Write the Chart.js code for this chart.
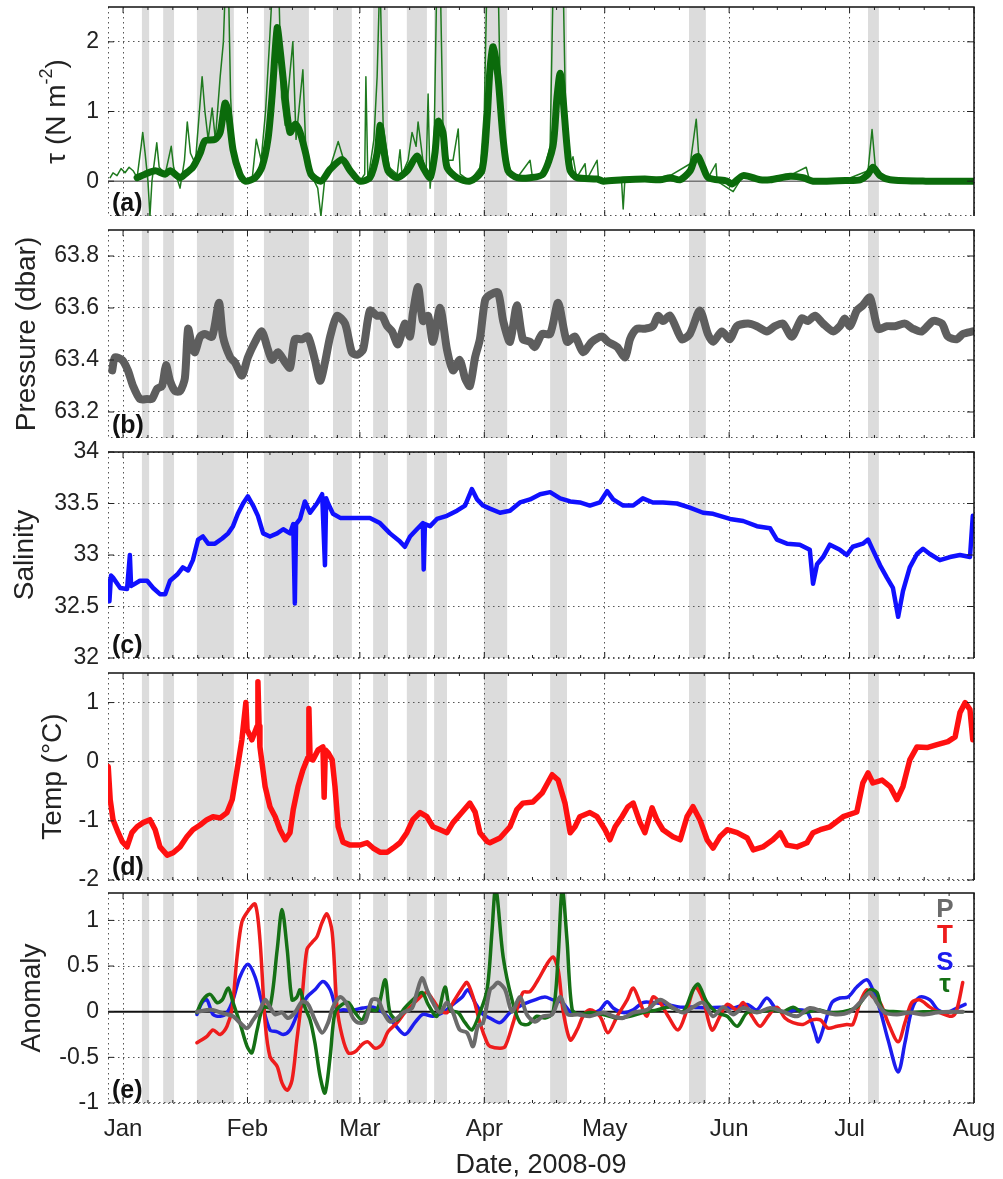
<!DOCTYPE html>
<html>
<head>
<meta charset="utf-8">
<script src="https://cdn.jsdelivr.net/npm/chart.js@4.4.1/dist/chart.umd.min.js"></script>
<style>
  body { margin: 0; background: #fff; }
  #wrap { position: relative; width: 1003px; height: 1179px; overflow: hidden; }
  canvas { position: absolute; left: 0; }
</style>
</head>
<body>
<div id="wrap">
  <canvas id="chartA" width="1003" height="230" style="top:0px"></canvas>
  <canvas id="chartB" width="1003" height="236" style="top:216px"></canvas>
  <canvas id="chartC" width="1003" height="234" style="top:438px"></canvas>
  <canvas id="chartD" width="1003" height="235" style="top:659px"></canvas>
  <canvas id="chartE" width="1003" height="300" style="top:879px"></canvas>
</div>
<script>
// Trục thời gian: ngày kể từ 1 Jan
const monthDays = [0, 31, 59, 90, 120, 151, 181, 212];
const monthLabels = ['Jan', 'Feb', 'Mar', 'Apr', 'May', 'Jun', 'Jul', 'Aug'];

// Các đợt bão (vùng tô xám) [bắt đầu, kết thúc]
const storms = [[4.7, 6.5], [10, 12.7], [18.4, 27.6], [35.1, 46.3], [52.3, 57], [62.3, 66],
  [70.7, 75.7], [77.5, 80.7], [89.9, 95.7], [106.4, 110.6], [141, 145.2], [185.6, 188.3]];

// (a) ứng suất gió: đường làm trơn và số liệu thô
const tauSmooth = [[3.5,0.05],[5.5,0.1],[8,0.15],[10.5,0.1],[11.7,0.15],[14.2,0.05],[15.4,0.1],[17.4,0.2],[19.2,0.4],[20.4,0.58],[22.9,0.6],[24.2,0.7],[25.4,1.12],[26.2,1.0],[27.4,0.45],[29.1,0.1],[30.4,0.0],[32.9,0.05],[34.6,0.2],[36.1,0.6],[37.1,1.2],[38.4,2.2],[39.1,1.9],[40.4,1.2],[41.6,0.7],[42.9,0.82],[44.1,0.7],[45.5,0.4],[46.8,0.1],[49.3,0.0],[51.6,0.17],[54.6,0.31],[56.6,0.15],[59.0,0.0],[61.5,0.05],[63.3,0.4],[64.0,0.8],[64.8,0.5],[66.0,0.15],[68.3,0.05],[70.8,0.15],[73.2,0.36],[74.7,0.2],[76.5,0.05],[77.7,0.4],[78.5,0.86],[79.7,0.7],[80.7,0.2],[83.2,0.05],[86.4,0.0],[89.4,0.15],[90.7,0.9],[91.4,1.6],[92.2,1.93],[93.4,1.5],[94.7,0.6],[95.9,0.15],[98.2,0.05],[101.4,0.05],[104.6,0.1],[107.1,0.5],[108.1,1.2],[108.9,1.55],[109.6,1.2],[110.6,0.5],[111.4,0.15],[113.1,0.05],[118.1,0.03],[119.6,0.0],[124.6,0.02],[130,0.03],[133.8,0.02],[136.3,0.05],[138.8,0.02],[141.3,0.15],[142.5,0.33],[143.3,0.35],[144.5,0.2],[145.8,0.05],[150.5,0.0],[151.7,-0.04],[154.5,0.08],[158.7,0.02],[161.2,0.02],[166.2,0.07],[169.4,0.05],[171.9,0.0],[180,0.01],[183.6,0.02],[185.6,0.1],[186.8,0.2],[188.6,0.08],[191.1,0.02],[200,0.0],[212,0.0]];
const tauRaw = [[-3.2,0.05],[-2.5,0.12],[-1.5,0.08],[-0.5,0.18],[0.5,0.12],[1.5,0.2],[2.5,0.15],[3.5,0.05],[4.5,0.5],[4.9,0.7],[5.5,0.4],[6.2,0.0],[6.7,-0.5],[7.2,0.0],[8.4,0.55],[9,0.2],[10.5,0.1],[12,0.5],[12.6,0.2],[14.2,-0.1],[15.3,0.3],[16,0.85],[16.8,0.4],[18,0.25],[19.7,1.5],[20.4,1.0],[21.2,0.6],[22.2,1.05],[23,0.6],[24.2,1.5],[25,2.0],[25.6,3],[26.2,3],[26.8,1.2],[27.4,0.5],[29.1,0.05],[30.4,0.0],[32.2,0.05],[33.2,0.6],[34.4,0.3],[35.5,1.0],[36.5,2.0],[37.4,3],[38.7,3],[39.5,1.2],[40.4,0.8],[41.5,1.5],[42.3,2.0],[43.1,0.6],[44.8,1.6],[45.5,0.5],[46.8,0.1],[48.5,-0.1],[49.3,-0.5],[50.2,0.0],[51.6,0.2],[53.6,0.57],[55,0.3],[57,0.1],[59,0.0],[60.2,0.1],[60.5,1.5],[61,0.0],[62.5,0.6],[63.3,1.5],[64,3],[64.8,0.8],[66.3,0.2],[68.3,0.1],[69,0.45],[69.5,0.1],[71,0.3],[72,0.7],[73,0.5],[73.5,0.85],[74.7,0.3],[75.5,0.1],[76,1.25],[76.5,-0.1],[77.5,0.6],[78.2,3],[79,3],[79.7,0.8],[80.7,0.3],[82.2,0.3],[83.5,0.75],[84,0.1],[86.4,0.0],[89,0.2],[90,1.0],[90.7,3],[92.2,3],[93.4,3],[94,1.2],[95,0.5],[96,0.1],[98.2,0.05],[101.4,0.3],[102,0.05],[104.6,0.1],[106.4,0.5],[107.2,3],[109.6,3],[110.3,0.8],[111,0.2],[112.1,0.35],[113,0.05],[115.1,0.25],[115.5,0.02],[118.1,0.3],[118.5,0.0],[124.2,0.0],[124.6,-0.4],[125,0.0],[130,0.02],[136.3,0.08],[141.3,0.25],[142.8,0.89],[143.5,0.3],[145.8,0.05],[147.7,0.25],[148,0.0],[152,-0.15],[154.5,0.08],[160,0.02],[166,0.08],[170.2,0.2],[171,0.02],[180,0.02],[185.6,0.15],[186.6,0.74],[187.5,0.15],[189,0.03],[195,0.0],[212,0.0]];

// (b) áp suất (dbar)
const pressure = [[-2.7,63.36],[-2.0,63.41],[-0.2,63.40],[1.2,63.36],[2.5,63.30],[4.2,63.25],[6.0,63.25],[7.2,63.25],[8.5,63.29],[9.7,63.30],[10.7,63.38],[11.7,63.32],[13.0,63.28],[14.2,63.28],[15.4,63.33],[16.2,63.52],[17.2,63.45],[17.9,63.43],[19.2,63.49],[20.4,63.50],[22.2,63.49],[23.9,63.62],[24.9,63.49],[26.7,63.41],[27.9,63.39],[29.6,63.34],[31.1,63.41],[32.9,63.47],[34.6,63.51],[35.9,63.45],[37.1,63.40],[38.6,63.43],[40.4,63.39],[41.6,63.37],[42.8,63.48],[44.6,63.48],[46.1,63.49],[47.8,63.40],[49.1,63.32],[50.3,63.39],[51.6,63.49],[53.3,63.57],[55.3,63.54],[57.0,63.43],[58.3,63.42],[59.8,63.44],[61.5,63.59],[63.3,63.57],[64.5,63.57],[65.8,63.53],[67.0,63.51],[68.5,63.46],[70.2,63.54],[71.5,63.49],[72.2,63.58],[73.5,63.68],[74.7,63.55],[76.0,63.57],[77.2,63.47],[79.0,63.60],[80.7,63.44],[82.2,63.36],[83.9,63.40],[85.2,63.33],[86.4,63.30],[87.7,63.41],[88.9,63.48],[90.2,63.63],[91.4,63.65],[93.4,63.66],[94.7,63.55],[96.4,63.47],[98.1,63.61],[99.6,63.48],[101.4,63.47],[102.6,63.45],[104.4,63.50],[106.4,63.50],[108.4,63.62],[110.6,63.47],[112.6,63.49],[114.6,63.43],[116.8,63.47],[119.3,63.49],[120.8,63.47],[123.1,63.45],[125.1,63.41],[126.3,63.48],[128.0,63.52],[130.0,63.52],[132.0,63.53],[133.3,63.57],[134.5,63.55],[136.3,63.57],[139.2,63.48],[141.2,63.50],[143.7,63.59],[145.7,63.50],[147.0,63.47],[149.2,63.51],[151.2,63.48],[152.9,63.53],[155.7,63.54],[157.9,63.53],[160.4,63.51],[162.4,63.53],[164.4,63.54],[166.6,63.49],[169.1,63.56],[170.6,63.55],[172.4,63.57],[174.4,63.54],[176.9,63.51],[178.6,63.53],[179.8,63.56],[181.1,63.53],[182.8,63.59],[184.3,63.61],[186.1,63.64],[188.1,63.52],[190.3,63.53],[192.3,63.53],[194.8,63.54],[196.8,63.52],[199.0,63.51],[201.8,63.55],[204.0,63.54],[205.5,63.49],[207.7,63.48],[209.2,63.50],[211.7,63.51]];

// (c) độ mặn
const salinity = [[-3.7,32.75],[-3.4,32.55],[-3,32.8],[-2.5,32.78],[-0.7,32.68],[1.0,32.67],[1.7,33.0],[2.0,32.7],[2.5,32.71],[4.2,32.75],[6.0,32.75],[7.5,32.68],[9.2,32.62],[10.5,32.62],[11.7,32.75],[13.5,32.81],[14.9,32.88],[16.2,32.85],[17.4,32.95],[18.7,33.15],[19.9,33.18],[21.2,33.11],[22.9,33.11],[24.7,33.16],[26.2,33.21],[27.4,33.28],[28.6,33.4],[29.9,33.5],[31.1,33.57],[32.4,33.48],[33.6,33.38],[34.9,33.21],[36.6,33.18],[38.4,33.21],[39.9,33.25],[41.6,33.21],[42.4,33.3],[42.8,32.53],[43.1,33.3],[44.1,33.35],[45.3,33.52],[46.6,33.41],[48.3,33.5],[49.6,33.59],[50.3,32.9],[50.6,33.55],[51.1,33.5],[52.3,33.4],[54.1,33.36],[56.6,33.36],[59.0,33.36],[61.5,33.36],[64.0,33.31],[66.5,33.21],[69.0,33.13],[70.2,33.08],[71.5,33.18],[73.2,33.25],[74.7,33.31],[74.9,32.86],[75.2,33.3],[76.5,33.28],[78.2,33.35],[80.7,33.38],[83.2,33.43],[85.2,33.48],[86.9,33.64],[88.2,33.54],[89.7,33.48],[91.4,33.45],[93.9,33.41],[96.4,33.43],[98.9,33.51],[101.4,33.54],[103.9,33.59],[106.4,33.61],[108.9,33.55],[111.4,33.52],[113.8,33.51],[116.3,33.48],[118.8,33.51],[120.6,33.62],[122.1,33.54],[124.6,33.48],[127.1,33.48],[129.5,33.55],[132.0,33.51],[134.5,33.51],[138.0,33.5],[141.2,33.46],[144.5,33.41],[147.0,33.40],[151.2,33.35],[154.5,33.33],[157.9,33.28],[161.2,33.26],[162.9,33.15],[165.4,33.11],[168.6,33.10],[171.1,33.05],[171.9,32.72],[172.9,32.91],[174.4,32.98],[176.1,33.10],[178.6,33.05],[180.3,33.0],[181.8,33.08],[184.3,33.11],[185.6,33.15],[186.8,33.05],[188.6,32.9],[190.3,32.78],[191.8,32.68],[193.1,32.4],[194.3,32.65],[196.0,32.88],[197.8,33.01],[199.3,33.06],[201.0,33.01],[203.5,32.95],[206.0,32.98],[208.5,33.0],[211.0,32.98],[211.7,33.38]];

// (d) nhiệt độ (°C)
const temperature = [[-3.7,-0.08],[-3.2,-0.64],[-2.5,-0.98],[-1.2,-1.2],[-0.2,-1.35],[1.0,-1.44],[2.2,-1.2],[3.5,-1.1],[5.0,-1.03],[6.7,-0.98],[8.0,-1.15],[9.2,-1.44],[11.0,-1.58],[12.5,-1.54],[14.2,-1.44],[15.9,-1.27],[17.4,-1.15],[19.2,-1.07],[20.9,-0.98],[22.4,-0.93],[24.2,-0.95],[25.9,-0.86],[27.2,-0.64],[28.4,-0.14],[29.6,0.37],[30.6,1.0],[30.9,0.54],[32.1,0.37],[33.4,0.6],[33.6,1.35],[33.9,0.6],[34.1,0.25],[35.4,-0.42],[36.6,-0.76],[37.9,-0.93],[39.1,-1.15],[40.4,-1.32],[41.6,-1.2],[42.4,-0.81],[43.6,-0.42],[44.8,-0.14],[46.1,0.08],[46.3,0.9],[46.6,0.05],[47.3,0.03],[48.6,0.2],[49.8,0.25],[50.1,-0.6],[50.4,0.2],[51.1,0.15],[52.1,0.03],[52.8,-0.42],[53.6,-1.1],[54.8,-1.36],[56.6,-1.41],[59.0,-1.41],[60.8,-1.37],[62.3,-1.46],[64.0,-1.53],[65.8,-1.53],[67.3,-1.46],[69.0,-1.37],[70.7,-1.2],[72.2,-0.98],[74.0,-0.86],[75.7,-0.93],[77.2,-1.1],[79.0,-1.15],[80.7,-1.2],[82.2,-1.03],[84.5,-0.85],[86.4,-0.7],[87.7,-0.85],[88.9,-1.2],[90.7,-1.35],[91.4,-1.37],[93.9,-1.29],[96.4,-1.1],[98.1,-0.81],[99.6,-0.7],[102.1,-0.68],[104.4,-0.53],[106.9,-0.22],[108.4,-0.31],[110.1,-0.7],[111.4,-1.2],[112.6,-1.1],[113.8,-0.93],[116.3,-0.86],[118.1,-0.93],[120.1,-1.15],[121.3,-1.32],[122.6,-1.1],[124.3,-0.93],[125.8,-0.76],[127.1,-0.7],[128.8,-1.03],[130.0,-1.2],[131.8,-0.78],[133.0,-0.98],[134.5,-1.15],[137.0,-1.27],[138.8,-1.32],[140.5,-0.93],[142.0,-0.76],[143.7,-0.98],[145.5,-1.32],[147.0,-1.46],[148.7,-1.27],[150.5,-1.15],[153.0,-1.2],[155.5,-1.29],[157.0,-1.49],[159.4,-1.44],[161.9,-1.32],[163.7,-1.2],[165.4,-1.41],[167.9,-1.44],[170.4,-1.37],[171.9,-1.2],[173.7,-1.15],[176.1,-1.1],[179.4,-0.93],[182.8,-0.85],[184.3,-0.36],[185.6,-0.19],[186.8,-0.36],[189.1,-0.31],[191.1,-0.42],[192.8,-0.64],[194.3,-0.42],[196.0,0.03],[197.8,0.25],[200.3,0.24],[202.8,0.29],[205.5,0.34],[207.3,0.42],[208.5,0.83],[209.8,1.0],[211.0,0.88],[211.7,0.37]];

// (e) dị thường P, T, S, tau
const anomP = [[18.4,0.0],[22,0.02],[25,-0.02],[27.4,-0.05],[29.1,-0.12],[30.9,-0.18],[32.4,-0.09],[34.1,0.02],[35.4,0.13],[36.6,0.05],[37.9,-0.03],[39.6,-0.01],[41.1,-0.07],[42.8,-0.01],[44.6,0.11],[46.1,0.08],[47.8,-0.09],[49.6,-0.23],[51.1,-0.12],[52.3,0.05],[54.1,0.16],[55.8,0.08],[57.3,-0.07],[58.5,-0.12],[60.3,-0.11],[62.0,0.13],[63.5,0.13],[64.8,0.0],[66.5,-0.11],[68.3,-0.07],[69.8,-0.01],[72.0,0.04],[73.2,0.21],[74.5,0.37],[75.7,0.24],[77.2,0.1],[79.0,-0.01],[80.7,0.1],[82.2,-0.01],[83.9,-0.2],[85.7,-0.23],[87.2,-0.38],[88.4,-0.16],[89.7,-0.12],[91.4,0.24],[92.2,0.27],[93.4,0.32],[95.2,0.24],[96.9,0.0],[98.9,0.16],[100.6,-0.03],[102.6,-0.11],[104.6,-0.05],[106.9,-0.03],[108.9,0.16],[110.8,-0.03],[113.3,-0.03],[116.3,-0.05],[119.6,-0.01],[122.1,-0.05],[124.6,-0.07],[127.1,-0.01],[130.5,0.02],[133.8,0.13],[136.8,0.05],[139.5,-0.01],[142.0,0.05],[144.5,0.1],[147.0,-0.05],[149.5,0.05],[152.0,-0.03],[154.5,0.04],[157.9,-0.01],[161.2,0.04],[164.4,0.0],[167.9,-0.05],[171.1,0.04],[174.4,0.0],[177.9,-0.03],[181.1,0.0],[183.6,0.1],[186.1,0.21],[187.8,0.1],[189.8,-0.01],[192.8,-0.03],[196.0,-0.01],[199.3,-0.03],[202.8,-0.01],[206.0,0.0],[209.2,0.0]];
const anomT = [[18.4,-0.34],[20.9,-0.27],[22.4,-0.2],[24.2,-0.25],[25.9,-0.16],[27.2,0.05],[28.4,0.6],[29.6,0.98],[31.1,1.1],[32.9,1.18],[34.1,0.79],[35.4,-0.12],[36.6,-0.49],[38.4,-0.6],[39.6,-0.78],[40.9,-0.86],[42.1,-0.75],[43.3,-0.31],[44.6,0.16],[45.8,0.68],[47.1,0.76],[48.3,0.82],[49.6,0.98],[50.8,1.07],[52.1,0.87],[53.3,0.05],[54.6,-0.27],[56.1,-0.45],[57.8,-0.44],[59.5,-0.36],[61.0,-0.33],[62.8,-0.4],[64.5,-0.36],[66.0,-0.22],[68.3,-0.12],[70.2,-0.01],[72.2,0.08],[74.0,0.16],[75.7,0.21],[77.2,0.13],[79.0,0.02],[80.7,-0.01],[82.2,0.1],[84.5,0.26],[85.7,0.32],[87.2,0.16],[88.9,-0.12],[90.7,-0.34],[91.4,-0.38],[93.9,-0.4],[95.2,-0.38],[97.2,-0.12],[99.6,0.21],[101.4,0.22],[103.4,0.35],[105.6,0.52],[107.1,0.6],[108.4,0.46],[109.6,0.02],[111.4,-0.31],[113.1,-0.2],[114.6,-0.05],[116.3,0.02],[118.8,-0.05],[120.8,-0.23],[123.1,-0.05],[125.6,0.13],[127.1,0.26],[128.8,0.1],[130.5,-0.05],[132.0,0.16],[133.8,0.1],[135.8,-0.05],[138.3,-0.2],[140.5,0.02],[142.5,0.27],[144.5,0.13],[146.7,-0.2],[148.7,-0.05],[150.5,0.08],[153.0,0.02],[154.5,0.1],[156.7,-0.05],[158.7,-0.16],[160.7,-0.05],[162.9,0.05],[164.9,-0.07],[166.9,-0.12],[169.4,-0.14],[171.6,-0.09],[173.7,-0.09],[175.6,-0.18],[177.9,-0.16],[180.3,-0.14],[181.8,-0.14],[183.6,0.1],[185.3,0.24],[186.8,0.16],[188.6,0.1],[190.6,-0.12],[193.1,-0.33],[194.8,-0.12],[196.5,0.1],[198.5,0.13],[201.0,0.05],[203.5,-0.01],[206.5,-0.05],[207.7,0.02],[209.2,0.32]];
const anomS = [[18.4,-0.03],[19.7,0.1],[20.9,0.13],[22.4,-0.03],[24.2,-0.05],[25.9,-0.01],[27.4,0.13],[29.1,0.38],[31.1,0.52],[32.9,0.38],[34.6,0.1],[36.6,-0.2],[38.4,-0.22],[39.9,-0.25],[41.6,-0.2],[43.6,-0.01],[45.8,0.16],[47.8,0.24],[49.8,0.33],[51.6,0.24],[53.3,0.02],[54.8,0.02],[57.3,0.02],[59.8,0.04],[62.3,0.05],[64.8,-0.01],[67.3,-0.12],[70.2,-0.25],[72.7,-0.12],[74.7,-0.03],[77.2,-0.05],[79.7,-0.01],[82.2,0.08],[84.5,0.16],[85.9,0.24],[87.7,0.1],[89.7,-0.03],[91.4,-0.07],[93.9,-0.12],[96.4,-0.01],[99.6,0.08],[102.6,0.13],[105.1,0.16],[107.1,0.13],[109.4,0.1],[111.4,0.0],[113.8,-0.03],[116.3,-0.03],[118.8,0.02],[120.6,0.11],[122.1,0.04],[124.6,-0.01],[127.1,0.02],[129.5,0.1],[132.0,0.1],[135.5,0.08],[138.8,0.05],[142.0,0.05],[145.5,0.04],[148.7,0.05],[152.0,0.04],[155.5,0.08],[157.9,0.02],[160.4,0.15],[162.9,0.02],[165.4,0.0],[167.9,0.02],[170.4,0.0],[172.4,-0.23],[173.2,-0.33],[174.9,-0.12],[176.6,0.1],[178.6,0.15],[180.6,0.16],[182.8,0.27],[185.3,0.35],[186.8,0.24],[188.6,0.02],[190.6,-0.31],[193.1,-0.66],[194.8,-0.34],[196.5,0.02],[198.5,0.16],[201.0,0.13],[203.0,0.02],[205.3,-0.01],[207.7,0.04],[209.8,0.08]];
const anomTau = [[18.4,-0.01],[19.9,0.13],[21.7,0.19],[23.4,0.1],[24.7,0.13],[26.2,0.26],[27.4,0.1],[29.1,-0.12],[30.9,-0.38],[32.1,-0.45],[33.4,-0.2],[34.9,0.05],[36.6,0.05],[38.4,0.68],[39.6,1.12],[40.9,0.68],[42.1,0.13],[43.3,0.16],[44.1,0.24],[45.3,0.05],[46.6,-0.09],[47.8,-0.34],[49.1,-0.71],[50.3,-0.89],[51.6,-0.49],[52.8,-0.01],[54.6,0.08],[56.1,0.1],[57.8,-0.01],[59.5,-0.09],[61.0,0.02],[63.3,0.02],[65.3,0.35],[66.5,-0.01],[68.3,-0.09],[69.8,0.02],[72.2,0.13],[74.5,0.21],[76.0,0.08],[78.2,-0.05],[80.2,0.27],[81.5,0.02],[83.5,-0.01],[85.2,-0.12],[86.9,-0.2],[88.9,-0.01],[90.7,0.24],[91.9,0.87],[92.7,1.35],[93.2,1.27],[94.7,0.6],[96.9,0.13],[98.9,-0.12],[100.9,-0.14],[103.1,-0.05],[105.1,-0.07],[107.1,-0.01],[108.4,0.6],[109.4,1.35],[110.6,0.79],[111.9,0.02],[113.8,-0.03],[116.3,-0.01],[119.6,-0.03],[123.1,-0.07],[126.3,-0.05],[129.5,-0.01],[133.0,0.02],[136.3,0.05],[139.5,0.0],[142.0,0.24],[143.3,0.3],[145.5,0.1],[148.0,-0.01],[150.5,-0.05],[153.0,-0.16],[155.5,-0.01],[158.7,0.0],[161.9,0.02],[164.4,0.0],[166.9,0.05],[169.4,-0.01],[172.9,0.02],[176.1,-0.01],[179.4,0.0],[182.8,0.05],[186.1,0.24],[187.8,0.21],[189.3,0.02],[192.8,0.0],[196.0,-0.01],[199.3,0.0],[202.8,0.0],[206.0,0.0],[209.2,0.0]];

const legendLabels = ['P', 'T', 'S', 'τ'];
const legendColors = ['#6b6b6b', '#ee1c1c', '#1c1cee', '#157015'];

const FONT = '"Liberation Sans", Arial, Helvetica, sans-serif';
const GRID_COLOR = '#555';
const X_MIN = -3.75, X_MAX = 212;

// Vẽ vùng bão, khung, vạch chia và chữ cho từng ô
const panelDeco = {
    id: 'panelDeco',
    beforeDraw(chart) {
        const { ctx, chartArea: a, scales: { x } } = chart;
        ctx.save();
        ctx.fillStyle = '#dcdcdc';
        storms.forEach(([s, e]) => {
            const x0 = x.getPixelForValue(s), x1 = x.getPixelForValue(e);
            ctx.fillRect(x0, a.top, x1 - x0, a.bottom - a.top);
        });
        ctx.restore();
    },
    beforeDatasetsDraw(chart, args, o) {
        const { ctx, chartArea: a, scales: { y } } = chart;
        ctx.save();
        ctx.strokeStyle = GRID_COLOR;
        ctx.lineWidth = 1;
        ctx.setLineDash([1.5, 3.5]);
        ctx.beginPath();
        ctx.moveTo(a.left + 0.5, a.top);
        ctx.lineTo(a.left + 0.5, a.bottom - 0.5);
        ctx.lineTo(a.right, a.bottom - 0.5);
        ctx.stroke();
        ctx.setLineDash([]);
        if (o.zeroColor) {
            const py = y.getPixelForValue(0);
            ctx.strokeStyle = o.zeroColor;
            ctx.lineWidth = o.zeroWidth;
            ctx.beginPath();
            ctx.moveTo(a.left, py);
            ctx.lineTo(a.right, py);
            ctx.stroke();
        }
        ctx.restore();
    },
    afterDraw(chart, args, o) {
        const { ctx, chartArea: a, scales: { x, y } } = chart;
        ctx.save();
        // khung trên và phải
        ctx.strokeStyle = '#111';
        ctx.lineWidth = 1.5;
        ctx.beginPath();
        ctx.moveTo(a.left, a.top);
        ctx.lineTo(a.right, a.top);
        ctx.lineTo(a.right, a.bottom);
        ctx.stroke();

        // vạch chia
        ctx.lineWidth = 1;
        ctx.strokeStyle = '#222';
        const tick = (x0, y0, x1, y1) => { ctx.beginPath(); ctx.moveTo(x0, y0); ctx.lineTo(x1, y1); ctx.stroke(); };
        monthDays.forEach((d, i) => {
            const px = x.getPixelForValue(d);
            tick(px, a.top, px, a.top + 6);
            tick(px, a.bottom, px, a.bottom - 6);
            if (i < monthDays.length - 1) {
                for (let k = 1; k < 5; k++) {
                    const mx = x.getPixelForValue(d + (monthDays[i + 1] - d) * k / 5);
                    tick(mx, a.top, mx, a.top + 3);
                    tick(mx, a.bottom, mx, a.bottom - 3);
                }
            }
        });
        y.ticks.forEach(t => {
            const py = y.getPixelForValue(t.value);
            tick(a.left, py, a.left + 6, py);
            tick(a.right, py, a.right - 7, py);
        });

        // nhãn ô (a), (b)...
        ctx.fillStyle = '#111';
        ctx.font = `bold 25px ${FONT}`;
        ctx.textAlign = 'left';
        ctx.textBaseline = 'alphabetic';
        ctx.fillText(o.label, a.left + 4, a.bottom - 5);

        // tên trục y (xoay dọc)
        ctx.save();
        ctx.translate(o.titleX, (a.top + a.bottom) / 2);
        ctx.rotate(-Math.PI / 2);
        ctx.fillStyle = '#222';
        ctx.textBaseline = 'middle';
        const big = `28px ${FONT}`, small = `18px ${FONT}`;
        ctx.font = big;
        const w1 = ctx.measureText(o.title).width;
        const w3 = o.tail ? ctx.measureText(o.tail).width : 0;
        ctx.font = small;
        const w2 = o.sup ? ctx.measureText(o.sup).width : 0;
        let px = -(w1 + w2 + w3) / 2;
        ctx.font = big;
        ctx.fillText(o.title, px, 0);
        px += w1;
        if (o.sup) {
            ctx.font = small;
            ctx.fillText(o.sup, px, -10);
            px += w2;
            ctx.font = big;
            ctx.fillText(o.tail, px, 0);
        }
        ctx.restore();

        // chú giải P/T/S/tau và tên trục x ở ô cuối
        if (o.legend) {
            ctx.font = `bold 26px ${FONT}`;
            ctx.textAlign = 'center';
            const offs = [24, 50, 77, 99];
            legendLabels.forEach((t, i) => {
                ctx.fillStyle = legendColors[i];
                ctx.fillText(t, a.right - 29, a.top + offs[i]);
            });
        }
        if (o.xTitle) {
            ctx.fillStyle = '#222';
            ctx.font = `27px ${FONT}`;
            ctx.textAlign = 'center';
            ctx.fillText(o.xTitle, (a.left + a.right) / 2, chart.height - 6);
        }
        ctx.restore();
    }
};
Chart.register(panelDeco);

function line(data, color, width, tension) {
    return {
        data: data.map(([x, y]) => ({ x, y })),
        borderColor: color,
        borderWidth: width,
        pointRadius: 0,
        fill: false,
        tension: tension || 0,
        borderJoinStyle: 'round',
        borderCapStyle: 'round'
    };
}

function makeOptions(p) {
    return {
        responsive: false,
        animation: false,
        events: [],
        layout: { padding: { top: p.padTop, bottom: p.padBottom, left: 0, right: 29 } },
        plugins: {
            legend: { display: false },
            tooltip: { enabled: false },
            panelDeco: p.deco
        },
        scales: {
            x: {
                type: 'linear',
                min: X_MIN,
                max: X_MAX,
                afterBuildTicks: s => { s.ticks = monthDays.map(v => ({ value: v })); },
                afterFit: s => { s.height = p.xHeight; s.paddingLeft = 0; s.paddingRight = 0; },
                grid: { color: GRID_COLOR, lineWidth: 1, drawTicks: false },
                border: { display: false, dash: [1.5, 3.5] },
                ticks: {
                    display: !!p.showX,
                    autoSkip: false,
                    maxRotation: 0,
                    padding: 12,
                    color: '#222',
                    font: { family: FONT, size: 24 },
                    callback: (v, i) => monthLabels[i]
                }
            },
            y: {
                type: 'linear',
                min: p.min,
                max: p.max,
                afterBuildTicks: s => { s.ticks = p.ticks.map(v => ({ value: v })); },
                afterFit: s => { s.width = 108; s.paddingTop = 0; s.paddingBottom = 0; },
                grid: { color: GRID_COLOR, lineWidth: 1, drawTicks: false },
                border: { display: false, dash: [1.5, 3.5] },
                ticks: {
                    padding: 9,
                    color: '#222',
                    font: { family: FONT, size: 23 },
                    callback: v => String(v)
                }
            }
        }
    };
}

// (a)
new Chart(document.getElementById('chartA'), {
    type: 'line',
    data: { datasets: [line(tauSmooth, '#0b6b0b', 7, 0.25), line(tauRaw, '#1f7a1f', 1.5)] },
    options: makeOptions({
        padTop: 7, padBottom: 14, xHeight: 0, min: -0.5, max: 2.5, ticks: [0, 1, 2],
        deco: { label: '(a)', title: 'τ (N m', sup: '-2', tail: ')', titleX: 57, zeroColor: '#777', zeroWidth: 1.5 }
    })
});

// (b)
new Chart(document.getElementById('chartB'), {
    type: 'line',
    data: { datasets: [line(pressure, '#5e5e5e', 8, 0.25)] },
    options: makeOptions({
        padTop: 14, padBottom: 14, xHeight: 0, min: 63.1, max: 63.9, ticks: [63.2, 63.4, 63.6, 63.8],
        deco: { label: '(b)', title: 'Pressure (dbar)', titleX: 27 }
    })
});

// (c)
new Chart(document.getElementById('chartC'), {
    type: 'line',
    data: { datasets: [line(salinity, '#1010ff', 4.5)] },
    options: makeOptions({
        padTop: 14, padBottom: 14, xHeight: 0, min: 32, max: 34, ticks: [32, 32.5, 33, 33.5, 34],
        deco: { label: '(c)', title: 'Salinity', titleX: 25 }
    })
});

// (d)
new Chart(document.getElementById('chartD'), {
    type: 'line',
    data: { datasets: [line(temperature, '#ff1010', 5.5)] },
    options: makeOptions({
        padTop: 14, padBottom: 14, xHeight: 0, min: -2, max: 1.5, ticks: [-2, -1, 0, 1],
        deco: { label: '(d)', title: 'Temp (°C)', titleX: 53 }
    })
});

// (e)
new Chart(document.getElementById('chartE'), {
    type: 'line',
    data: {
        datasets: [
            line(anomP, legendColors[0], 4, 0.3),
            line(anomTau, legendColors[3], 3.5, 0.3),
            line(anomT, legendColors[1], 3.5, 0.3),
            line(anomS, legendColors[2], 3.5, 0.3)
        ]
    },
    options: makeOptions({
        padTop: 14, padBottom: 0, xHeight: 76, showX: true, min: -1, max: 1.3, ticks: [-1, -0.5, 0, 0.5, 1],
        deco: { label: '(e)', title: 'Anomaly', titleX: 32, zeroColor: '#111', zeroWidth: 2, legend: true, xTitle: 'Date, 2008-09' }
    })
});
</script>
</body>
</html>
